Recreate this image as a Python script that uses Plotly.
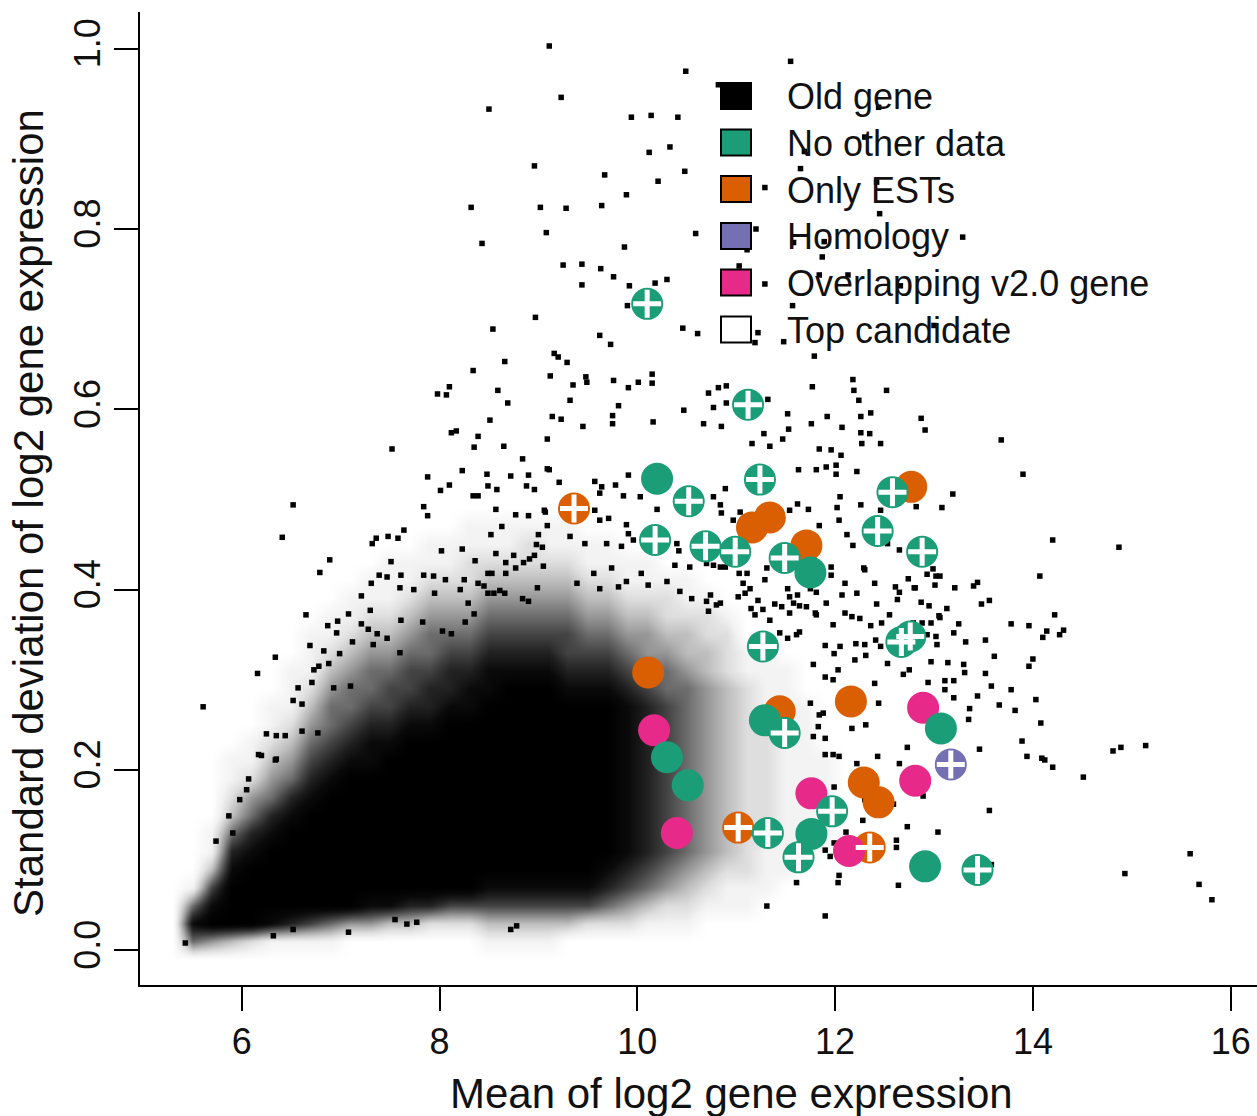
import plotly.graph_objects as go

# ---------------- data ----------------
x_ticks = [6, 8, 10, 12, 14, 16]
y_ticks = [0.0, 0.2, 0.4, 0.6, 0.8, 1.0]
y_ticktext = ["0.0", "0.2", "0.4", "0.6", "0.8", "1.0"]

# density of "Old gene" points in the crowded core (level 0..9 per 0.2 x 0.02 cell),
# one string per x-bin, characters from low to high y
density_x = [5.3, 5.5, 5.7, 5.9, 6.1, 6.3, 6.5, 6.7, 6.9, 7.1, 7.3, 7.5, 7.7, 7.9, 8.1, 8.3,
             8.5, 8.7, 8.9, 9.1, 9.3, 9.5, 9.7, 9.9, 10.1, 10.3, 10.5, 10.7, 10.9, 11.1,
             11.3, 11.5, 11.7, 11.9, 12.1]
density_y = [-0.01, 0.01, 0.03, 0.05, 0.07, 0.09, 0.11, 0.13, 0.15, 0.17, 0.19, 0.21, 0.23,
             0.25, 0.27, 0.29, 0.31, 0.33, 0.35, 0.37, 0.39, 0.41, 0.43, 0.45, 0.47, 0.49, 0.51]
density_cols = [
    "",
    "5851",
    "4986311",
    "39998753211",
    "299998754211",
    "18999987543211",
    "1799999875432111",
    "169999998765432111",
    "1599999998765543211",
    "04999999998765543211",
    "048999999988765543211",
    "0389999999987665432111",
    "0379999999998766543211",
    "02799999999987765543211",
    "02699999999998776543211",
    "026999999999988765432211",
    "136899999999998876543211",
    "136899999999999876543211",
    "136899999999999876543221",
    "136899999999999876543211",
    "036899999999998766543211",
    "02689999999999876543211",
    "02578999999999876543211",
    "0246788888888876543211",
    "0135677777777765443211",
    "012456666666665543221",
    "012345555555555433211",
    "00123444444444433221",
    "0011233333333332221",
    "00112222222222211",
    "00011122222221111",
    "0000111111111111",
    "00000111111111",
    "000000111110",
    "",
]

# individually visible "Old gene" points (mean, sd)
old_top = [
    (9.11, 1.003), (10.49, 0.975), (9.23, 0.946), (8.50, 0.933), (9.94, 0.924), (10.14, 0.926),
    (10.41, 0.924), (10.33, 0.891), (10.12, 0.885), (10.48, 0.864), (8.96, 0.870), (9.67, 0.860),
    (10.21, 0.853), (9.89, 0.838), (8.32, 0.824), (9.02, 0.824), (9.28, 0.823), (9.64, 0.826),
    (10.59, 0.795), (9.08, 0.796), (8.43, 0.784), (9.87, 0.780), (9.25, 0.760), (9.44, 0.761),
    (9.63, 0.756), (9.76, 0.747), (9.44, 0.738), (9.92, 0.737), (10.18, 0.740), (10.30, 0.744),
    (9.90, 0.715), (8.97, 0.702), (8.54, 0.689), (10.46, 0.690), (10.61, 0.684), (9.62, 0.682),
    (9.73, 0.672), (9.16, 0.662), (9.20, 0.658), (9.29, 0.652), (8.66, 0.653), (8.34, 0.643),
    (9.12, 0.637), (9.48, 0.636), (9.49, 0.630), (9.35, 0.627), (9.76, 0.632), (9.91, 0.624),
    (10.01, 0.630), (10.15, 0.639), (10.15, 0.629), (8.10, 0.625), (7.98, 0.617), (8.07, 0.616),
    (8.59, 0.621),
    (10.82, 0.960), (11.55, 0.986), (11.65, 0.867), (12.44, 0.935), (11.69, 0.886), (12.30, 0.902),
    (11.29, 0.846), (12.42, 0.852), (12.45, 0.817), (11.20, 0.800), (11.11, 0.777), (11.58, 0.785),
    (11.89, 0.786), (11.87, 0.769), (13.29, 0.791), (11.03, 0.759), (11.29, 0.739), (11.84, 0.749),
    (12.13, 0.749), (12.66, 0.737), (11.57, 0.715), (11.22, 0.685), (11.19, 0.674), (11.48, 0.675),
    (11.79, 0.659), (13.00, 0.693),
]

old_mid = [
    (9.32, 0.610), (9.81, 0.604), (9.14, 0.592), (9.23, 0.589), (9.45, 0.581), (9.75, 0.593),
    (9.75, 0.584), (10.16, 0.586), (10.47, 0.599), (10.67, 0.584), (10.85, 0.581), (10.82, 0.624),
    (10.90, 0.626), (10.72, 0.618), (10.77, 0.602), (10.90, 0.607), (11.32, 0.611), (11.52, 0.595),
    (11.53, 0.578), (11.28, 0.573), (11.34, 0.559), (11.16, 0.562), (11.47, 0.567), (11.77, 0.625),
    (11.92, 0.592), (11.76, 0.584), (12.07, 0.580), (12.18, 0.633), (12.19, 0.621), (12.24, 0.610),
    (12.52, 0.621), (12.26, 0.592), (12.36, 0.596), (12.26, 0.574), (12.35, 0.573), (12.27, 0.562),
    (12.46, 0.562), (11.84, 0.556), (11.96, 0.555), (12.06, 0.549), (11.81, 0.533), (11.91, 0.536),
    (12.01, 0.538), (12.22, 0.531), (11.63, 0.533), (12.46, 0.488), (12.26, 0.494), (12.05, 0.503),
    (12.12, 0.461), (12.18, 0.449), (12.53, 0.451), (12.42, 0.384), (12.55, 0.372), (12.22, 0.396),
    (12.29, 0.424), (12.40, 0.407), (11.98, 0.361), (11.91, 0.385), (12.07, 0.394), (11.81, 0.372),
    (11.96, 0.416), (11.96, 0.425), (12.10, 0.407), (11.81, 0.397), (11.62, 0.394), (11.75, 0.401),
    (9.11, 0.533), (9.21, 0.519), (9.06, 0.488), (9.57, 0.520), (9.64, 0.514), (9.62, 0.507),
    (9.91, 0.527), (9.78, 0.516), (9.86, 0.504), (10.03, 0.503), (10.20, 0.489), (9.57, 0.488),
    (9.71, 0.479), (9.89, 0.472), (9.91, 0.462), (9.62, 0.477), (9.32, 0.459), (9.47, 0.451),
    (9.69, 0.451), (9.84, 0.448), (9.96, 0.455), (10.40, 0.451), (10.42, 0.443), (10.38, 0.427),
    (10.53, 0.425), (10.77, 0.427), (10.84, 0.425), (9.39, 0.407), (9.56, 0.418), (9.74, 0.424),
    (9.62, 0.401), (9.81, 0.403), (9.89, 0.409), (10.04, 0.418), (10.11, 0.405), (10.30, 0.409),
    (10.43, 0.398), (10.55, 0.390), (10.70, 0.387), (10.80, 0.383),
    (10.97, 0.477), (12.04, 0.477), (12.01, 0.528), (12.02, 0.491), (11.62, 0.495), (11.73, 0.489),
    (11.54, 0.488), (10.89, 0.512), (10.77, 0.503), (10.84, 0.494), (10.85, 0.485), (11.04, 0.486),
    (11.45, 0.486), (11.84, 0.471), (12.65, 0.444), (12.30, 0.422), (12.61, 0.403), (12.65, 0.397),
    (12.80, 0.402), (12.63, 0.389), (12.10, 0.374), (12.17, 0.370), (12.25, 0.368), (12.36, 0.360),
    (12.47, 0.363), (12.41, 0.344), (11.90, 0.338), (12.05, 0.337), (12.97, 0.363), (13.05, 0.371),
    (12.93, 0.350), (12.79, 0.363), (12.88, 0.363), (12.81, 0.358),
    (10.70, 0.429), (10.74, 0.394), (10.72, 0.376), (10.89, 0.425), (11.03, 0.418), (11.11, 0.418),
    (11.07, 0.407), (11.14, 0.401), (11.09, 0.396), (11.29, 0.411), (11.31, 0.424), (11.52, 0.401),
    (11.54, 0.392), (11.58, 0.385), (11.39, 0.384), (11.46, 0.381), (11.64, 0.382), (11.71, 0.381),
    (11.22, 0.388), (11.02, 0.392), (10.84, 0.385), (11.15, 0.379), (11.19, 0.372), (11.27, 0.378),
    (11.54, 0.374), (11.80, 0.374), (11.34, 0.366), (11.61, 0.350), (11.64, 0.353), (11.52, 0.346),
    (11.44, 0.352),
]

old_halo = [
    (8.69, 0.607), (8.51, 0.588), (8.12, 0.574), (8.17, 0.576), (8.39, 0.570), (8.65, 0.559),
    (8.35, 0.558), (7.52, 0.556), (9.09, 0.567), (8.84, 0.545), (9.09, 0.534), (8.23, 0.532),
    (8.48, 0.528), (8.72, 0.526), (8.90, 0.527), (7.88, 0.525), (8.10, 0.516), (8.01, 0.510),
    (8.34, 0.504), (8.39, 0.504), (8.49, 0.515), (8.58, 0.511), (8.88, 0.515), (8.96, 0.511),
    (6.52, 0.494), (7.84, 0.492), (7.88, 0.482), (8.57, 0.489), (8.77, 0.483), (8.90, 0.482),
    (9.07, 0.486), (9.09, 0.471), (8.63, 0.470), (7.64, 0.466), (7.48, 0.459), (7.58, 0.457),
    (8.52, 0.461), (6.41, 0.458), (9.00, 0.461), (7.36, 0.457), (7.32, 0.451), (8.98, 0.450),
    (8.02, 0.443), (8.23, 0.445), (8.57, 0.440), (8.75, 0.438), (8.96, 0.438), (9.04, 0.447),
    (8.36, 0.432), (8.67, 0.430), (8.85, 0.430), (8.91, 0.434), (6.89, 0.433), (6.79, 0.419),
    (7.51, 0.431), (9.05, 0.426), (8.49, 0.418), (8.53, 0.418), (8.67, 0.418), (8.77, 0.424),
    (7.39, 0.416), (7.47, 0.414), (7.61, 0.416), (7.84, 0.416), (7.94, 0.415), (8.06, 0.411),
    (8.25, 0.411), (7.31, 0.407), (8.39, 0.407), (8.45, 0.404), (8.61, 0.399), (8.99, 0.402),
    (7.60, 0.402), (7.74, 0.400), (8.21, 0.400), (7.95, 0.396), (7.21, 0.393), (8.49, 0.396),
    (8.55, 0.396), (8.84, 0.390), (8.90, 0.387), (8.29, 0.385), (8.66, 0.396), (6.65, 0.372),
    (7.08, 0.373), (7.30, 0.377), (6.97, 0.365), (6.87, 0.360), (6.96, 0.352), (7.21, 0.362),
    (7.28, 0.356), (7.37, 0.351), (7.61, 0.366), (7.83, 0.364), (8.03, 0.354), (8.26, 0.364),
    (8.35, 0.373), (8.12, 0.351), (6.69, 0.338), (6.34, 0.325), (6.83, 0.332), (6.99, 0.329),
    (7.12, 0.342), (7.33, 0.339), (7.47, 0.346), (7.60, 0.330), (6.16, 0.307), (6.73, 0.311),
    (6.88, 0.318), (6.78, 0.315), (6.57, 0.291), (6.71, 0.297), (6.93, 0.291), (7.10, 0.293),
    (6.52, 0.277), (6.61, 0.273), (5.61, 0.270), (6.25, 0.240), (6.35, 0.238), (6.44, 0.238),
    (6.20, 0.216), (6.34, 0.211), (6.07, 0.190), (6.61, 0.243), (6.77, 0.241),
    (5.98, 0.167), (5.87, 0.149), (5.74, 0.121), (5.91, 0.130), (6.17, 0.217), (6.05, 0.178),
    (6.35, 0.212),
    (6.32, 0.016), (7.08, 0.020), (6.52, 0.023), (7.67, 0.029), (7.77, 0.031), (8.72, 0.023),
    (8.78, 0.027), (7.55, 0.034), (5.43, 0.008),
]

old_right = [
    (11.90, 0.038), (11.31, 0.049), (12.64, 0.072), (11.61, 0.075), (12.03, 0.075), (12.04, 0.083),
    (12.62, 0.114), (12.62, 0.122), (12.44, 0.274), (12.31, 0.250), (12.17, 0.246), (12.43, 0.215),
    (12.22, 0.207), (12.65, 0.207), (12.59, 0.162), (12.30, 0.167), (12.28, 0.144), (12.11, 0.131),
    (11.90, 0.111), (11.99, 0.119), (11.95, 0.104), (11.90, 0.217), (11.98, 0.217), (12.04, 0.215),
    (11.99, 0.181), (11.90, 0.161), (11.84, 0.261), (11.88, 0.263), (11.83, 0.248), (11.90, 0.235),
    (11.78, 0.237), (11.75, 0.274), (11.90, 0.303), (11.98, 0.300), (12.03, 0.311), (11.99, 0.329),
    (11.78, 0.317), (12.20, 0.322), (12.31, 0.327), (12.21, 0.340), (12.30, 0.339), (12.46, 0.337),
    (12.40, 0.296), (12.53, 0.318),
    (12.87, 0.590), (12.91, 0.577), (13.68, 0.566), (13.90, 0.528), (13.19, 0.506), (13.08, 0.491),
    (12.82, 0.492), (14.20, 0.455), (14.87, 0.447), (14.07, 0.415), (13.44, 0.408), (13.40, 0.404),
    (13.21, 0.402), (12.99, 0.423), (13.02, 0.415), (13.06, 0.415), (12.93, 0.417), (13.01, 0.405),
    (12.81, 0.402), (12.74, 0.412), (13.48, 0.384), (13.56, 0.388), (13.13, 0.379), (12.95, 0.382),
    (12.87, 0.386), (14.22, 0.372), (13.78, 0.362), (13.96, 0.360), (14.14, 0.354), (14.10, 0.347),
    (14.31, 0.355), (14.27, 0.350), (13.25, 0.362), (13.06, 0.369), (13.20, 0.352), (13.32, 0.342),
    (13.52, 0.344), (13.02, 0.348), (13.03, 0.339), (13.61, 0.326), (14.00, 0.323), (13.96, 0.315),
    (12.97, 0.320), (13.14, 0.319), (13.30, 0.317), (13.31, 0.308), (13.52, 0.307), (12.75, 0.311),
    (12.69, 0.306), (13.11, 0.299), (13.20, 0.299), (13.11, 0.289), (12.94, 0.297), (13.58, 0.293),
    (13.78, 0.289), (13.44, 0.282), (13.20, 0.280), (13.66, 0.272), (13.82, 0.266), (14.03, 0.278),
    (14.08, 0.252), (13.36, 0.268), (13.35, 0.256), (13.46, 0.223), (12.73, 0.225), (13.89, 0.232),
    (13.94, 0.215), (14.09, 0.213), (14.12, 0.211), (14.20, 0.203), (14.51, 0.192), (14.81, 0.221),
    (14.89, 0.225), (15.14, 0.227), (12.89, 0.171), (13.56, 0.155), (12.73, 0.137), (13.04, 0.131),
    (13.58, 0.095), (15.59, 0.107), (14.93, 0.085), (15.68, 0.073), (15.81, 0.056),
]

# candidate genes: (mean, sd, top candidate?)
no_other_data = [
    (10.10, 0.717, 1), (11.12, 0.605, 1), (10.20, 0.523, 0), (11.24, 0.522, 1), (10.52, 0.498, 1),
    (12.58, 0.508, 1), (10.18, 0.455, 1), (10.69, 0.448, 1), (10.99, 0.442, 1), (11.49, 0.435, 1),
    (11.75, 0.419, 0), (12.43, 0.465, 1), (12.88, 0.442, 1), (11.27, 0.337, 1), (12.67, 0.342, 1),
    (12.76, 0.348, 1), (11.29, 0.255, 0), (11.49, 0.241, 1), (13.07, 0.246, 0), (10.30, 0.214, 0),
    (10.51, 0.183, 0), (11.97, 0.154, 1), (11.32, 0.130, 1), (11.76, 0.129, 0), (11.63, 0.103, 1),
    (12.91, 0.093, 0), (13.44, 0.089, 1),
]
only_ests = [
    (9.36, 0.490, 1), (12.77, 0.514, 0), (11.16, 0.469, 0), (11.34, 0.480, 0), (11.71, 0.449, 0),
    (10.11, 0.308, 0), (11.44, 0.265, 0), (12.16, 0.276, 0), (12.29, 0.186, 0), (12.44, 0.164, 0),
    (11.02, 0.136, 1), (12.35, 0.114, 1),
]
homology = [(13.17, 0.206, 1)]
overlapping = [
    (12.89, 0.269, 0), (10.17, 0.244, 0), (11.76, 0.174, 0), (12.81, 0.188, 0), (10.40, 0.130, 0),
    (12.14, 0.110, 0),
]

legend_labels = ["Old gene", "No other data", "Only ESTs", "Homology",
                 "Overlapping v2.0 gene", "Top candidate"]
legend_colors = ["#000000", "#1B9E77", "#D95F02", "#7570B3", "#E7298A", "#FFFFFF"]

# ---------------- figure ----------------
FONT = "Liberation Sans, Arial, Helvetica, sans-serif"
W, H = 1257, 1116
ML, MR, MT, MB = 140, 0, 12, 131
PW, PH = W - ML - MR, H - MT - MB

fig = go.Figure()

z = []
padded = [("0" + c).ljust(len(density_y), "0") for c in density_cols]
for r in range(len(density_y)):
    z.append([int(col[r]) for col in padded])

density_scale = [
    [0.0, "#ffffff"], [1 / 9, "#f3f3f3"], [2 / 9, "#dedede"], [3 / 9, "#bebebe"],
    [4 / 9, "#979797"], [5 / 9, "#6c6c6c"], [6 / 9, "#444444"], [7 / 9, "#222222"],
    [8 / 9, "#0a0a0a"], [1.0, "#000000"],
]
fig.add_trace(go.Heatmap(
    x=density_x, y=density_y, z=z, zmin=0, zmax=9, zsmooth="best",
    colorscale=density_scale, showscale=False, hoverinfo="skip"))

old_pts = old_top + old_mid + old_halo + old_right
fig.add_trace(go.Scatter(
    x=[p[0] for p in old_pts], y=[p[1] for p in old_pts], mode="markers",
    marker=dict(symbol="square", size=5.5, color="#000000", line=dict(width=0)),
    hoverinfo="skip", showlegend=False))

groups = [(only_ests, "#D95F02"), (overlapping, "#E7298A"),
          (no_other_data, "#1B9E77"), (homology, "#7570B3")]
for pts, col in groups:
    fig.add_trace(go.Scatter(
        x=[p[0] for p in pts], y=[p[1] for p in pts], mode="markers",
        marker=dict(symbol="circle", size=32, color=col, line=dict(width=0)),
        hoverinfo="skip", showlegend=False))

tops = [p for pts, _ in groups for p in pts if p[2]]
fig.add_trace(go.Scatter(
    x=[p[0] for p in tops], y=[p[1] for p in tops], mode="markers",
    marker=dict(symbol="cross-thin", size=20, color="white",
                line=dict(width=5, color="white")),
    hoverinfo="skip", showlegend=False))

# legend drawn by hand (pixel positions -> paper)
def px(xp):
    return (xp - ML) / PW

def py(yp):
    return (MT + PH - yp) / PH

shapes = []
annotations = []
leg_y = [96, 142.5, 189, 236, 282.5, 329.5]
for lab, col, yc in zip(legend_labels, legend_colors, leg_y):
    shapes.append(dict(type="rect", xref="paper", yref="paper",
                       x0=px(721), x1=px(751), y0=py(yc + 13), y1=py(yc - 13),
                       fillcolor=col, line=dict(color="#000000", width=2), layer="above"))
    annotations.append(dict(text=lab, xref="paper", yref="paper", x=px(785), y=py(yc + 1),
                            xanchor="left", yanchor="middle", showarrow=False,
                            font=dict(family=FONT, size=36, color="#111111")))

annotations.append(dict(text="Mean of log2 gene expression", xref="paper", yref="paper",
                        x=px(731), y=py(1093), xanchor="center", yanchor="middle",
                        showarrow=False, font=dict(family=FONT, size=42, color="#111111")))
annotations.append(dict(text="Standard deviation of log2 gene expression", xref="paper",
                        yref="paper", x=px(28), y=py(513), xanchor="center", yanchor="middle",
                        textangle=-90, showarrow=False,
                        font=dict(family=FONT, size=42, color="#111111")))

x0 = 6 - (241.7 - ML) / 98.9
x1 = x0 + PW / 98.9
y0 = -(MT + PH - 950.2) / 901.5
y1 = y0 + PH / 901.5

axis_common = dict(showline=True, linecolor="#000000", linewidth=2, ticks="outside",
                   ticklen=24, tickwidth=2, tickcolor="#000000", showgrid=False,
                   zeroline=False, tickfont=dict(family=FONT, size=36, color="#111111"))

fig.update_layout(
    width=W, height=H, margin=dict(l=ML, r=MR, t=MT, b=MB),
    paper_bgcolor="white", plot_bgcolor="white", showlegend=False,
    xaxis=dict(range=[x0, x1], tickvals=x_ticks, ticktext=[str(v) for v in x_ticks],
               **axis_common),
    yaxis=dict(range=[y0, y1], tickvals=y_ticks, ticktext=y_ticktext, tickangle=-90,
               **axis_common),
    shapes=shapes, annotations=annotations,
)

fig.write_html("out.html")
